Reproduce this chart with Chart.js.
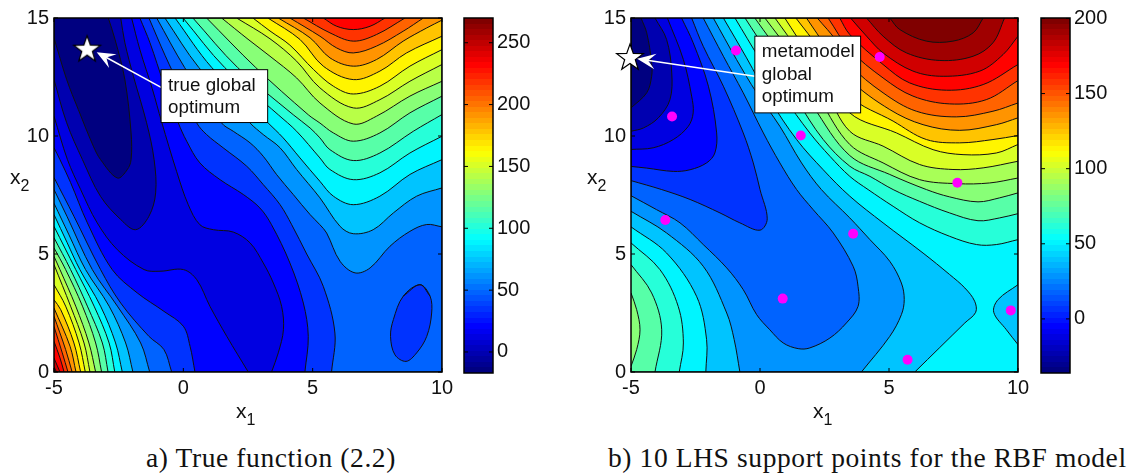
<!DOCTYPE html>
<html>
<head>
<meta charset="utf-8">
<title>True function and RBF model</title>
<script src="https://cdn.jsdelivr.net/npm/chart.js@4"></script>
<style>
body { margin: 0; background: #fff; }
#page { position: relative; width: 1134px; height: 476px; overflow: hidden; }
canvas { position: absolute; top: 0; }
.lab { position: absolute; font: 21px "Liberation Sans", Arial, sans-serif; color: #111; white-space: nowrap; }
.lab sub { font-size: 16px; line-height: 0; vertical-align: -7px; }
.cap { position: absolute; top: 442px; font: 27.5px "Liberation Serif", serif; letter-spacing: 0.6px; color: #111; white-space: nowrap; }
</style>
</head>
<body>
<div id="page">
  <canvas id="trueChart" width="460" height="410" style="left:0"></canvas>
  <canvas id="trueBar" width="90" height="410" style="left:450px"></canvas>
  <canvas id="rbfChart" width="460" height="410" style="left:577px"></canvas>
  <canvas id="rbfBar" width="108" height="410" style="left:1026px"></canvas>
  <div class="lab" style="left:236px;top:399px">x<sub>1</sub></div>
  <div class="lab" style="left:10px;top:165px">x<sub>2</sub></div>
  <div class="lab" style="left:813px;top:399px">x<sub>1</sub></div>
  <div class="lab" style="left:587px;top:165px">x<sub>2</sub></div>
  <div class="cap" style="left:146px">a) True function (2.2)</div>
  <div class="cap" style="left:608px">b) 10 LHS support points for the RBF model</div>
</div>
<script>
var axisTicks = [0, 5, 10, 15];
var trueBarRange = [-17, 270];
var trueBarTicks = [0, 50, 100, 150, 200, 250];
var rbfBarRange = [-36, 200.3];
var rbfBarTicks = [0, 50, 100, 150, 200];

// value of each filled band, lowest first
var trueBands = [-16, -3, 10, 23, 36, 49, 62, 75, 88, 101, 114, 127, 140, 153, 166, 179, 192, 205, 218, 231, 244, 257, 270];
var rbfBands = [-35, -24, -13, -3, 8, 19, 29, 40, 50, 61, 72, 83, 93, 104, 115, 125, 136, 147, 158, 168, 179, 190, 200];

var trueOptimum = [[-3.72, 13.7]];
var rbfOptimum = [[-5.04, 13.35]];
var supportPoints = [[-0.93, 13.62], [-3.41, 10.83], [1.58, 10.02], [4.64, 13.35], [7.65, 8.02], [-3.67, 6.44], [0.88, 3.11], [3.61, 5.86], [5.72, 0.52], [9.72, 2.61]];

// corners of the plot
var BL = [[-5, 0]], BR = [[10, 0]], TR = [[10, 15]], TL = [[-5, 15]];

// contours of panel a)
var tA = [[-2.9,15],[-2.64,14.09],[-2.26,12.39],[-2.02,10.13],[-2.02,9],[-2.17,8.57],[-2.55,8.22],[-3.2,9],[-3.48,9.57],[-4.06,11.12],[-4.51,12.39],[-5,14.16]];
var tB = [[-2.42,15],[-2.26,13.95],[-1.93,12.53],[-1.42,10.56],[-1.13,9],[-1.07,7.59],[-1.33,6.6],[-1.84,6.03],[-2.42,6.46],[-3.2,7.44],[-3.9,9],[-4.51,10.56],[-5,12.39]];
var tCHigh = [[-2,15],[-1.68,13.66],[-1.2,12],[-0.84,10.6],[-0.26,8.5],[0.19,7.09],[0.64,6.24],[1.16,6.03],[1.93,5.93],[2.58,5.47],[3.09,4.62],[3.48,3.77],[3.8,2.78],[3.87,1.79],[3.67,0.81],[3.41,0]];
var tCLow = [[-5,10.84],[-4.48,9],[-3.97,7.73],[-3.33,6.32],[-2.55,5.18],[-1.52,4.34],[-0.9,4.27],[0,4.34],[0.52,3.91],[1.03,2.78],[1.68,1.51],[2.51,0]];
var tDHigh = [[-1.68,15],[-1.29,13.95],[-0.75,12.2],[-0.2,10.57],[0.13,9.78],[0.64,8.86],[1.42,8.15],[2.32,7.52],[2.96,6.95],[3.41,6.24],[4.12,4.62],[4.64,2.92],[4.83,1.51],[4.7,0]];
var tDLow = [[-5,9.5],[-4.77,9],[-4.36,8.03],[-3.71,6.32],[-2.75,4.34],[-1.78,3.35],[-0.75,2.57],[0,1.94],[0.26,1.09],[0.45,0]];
var tEHigh = [[-1.33,15],[-0.7,13.4],[-0.1,12],[0.52,10.55],[0.9,10.06],[1.54,9.5],[2.45,8.72],[3.09,7.94],[3.74,7.09],[4.19,6.24],[4.77,5],[5.41,3.63],[5.86,1.65],[5.73,0]];
var tELow = [[-5,8.24],[-4.23,6.6],[-3.2,4.34],[-2.42,2.92],[-1.33,1.51],[-0.75,0.95],[-0.45,0]];
var tIsland = [[8.5,3.21],[9.15,3.7],[9.54,3.21],[9.6,2.5],[9.41,1.51],[9.02,0.81],[8.61,0.45],[8.18,0.73],[8.01,1.51],[8.12,2.22],[8.5,3.21],[9.15,3.7],[9.54,3.21]];
var tFHigh = [[-1.03,15],[0.05,12.9],[1.48,10.55],[1.93,10.2],[2.58,9.71],[3.09,9.14],[3.61,8.36],[4.25,7.52],[4.9,6.67],[5.28,6.24],[5.54,5.89],[6.06,4.69],[6.64,4.2],[7.22,4.41],[7.99,5.33],[8.76,5.96],[9.41,6.25],[10,6.15]];
var tFLow = [[-5,7.73],[-4.5,6.6],[-3.52,4.34],[-2.55,2.79],[-1.65,1.23],[-1.3,0]];
var tGHigh = [[-0.71,15],[0.6,12.9],[2.58,10.55],[3.09,10.06],[3.74,9.5],[4.38,8.58],[5.28,7.38],[6.06,6.17],[6.57,5.86],[7.34,6.03],[8.12,6.74],[9.02,7.45],[10,7.8]];
var tGLow = [[-5,7.15],[-4.42,5.81],[-3.78,4.34],[-2.87,2.79],[-2.23,1.23],[-1.95,0]];
var tHHigh = [[-0.32,15],[1.1,12.9],[3.28,10.55],[3.86,9.92],[4.51,9.07],[5.28,8.08],[5.8,7.45],[6.57,7.09],[7.6,7.45],[8.76,8.37],[10,9]];
var tHLow = [[-5,6.67],[-4.5,5.5],[-4,4.34],[-3.2,2.79],[-2.62,1.23],[-2.36,0]];
var tIHigh = [[-0.01,15],[1.6,12.9],[3.67,10.9],[4.38,10.2],[5.28,9.07],[5.67,8.58],[6.57,8.15],[7.6,8.44],[8.76,9.28],[10,9.99]];
var tILow = [[-5,6.17],[-4.16,4.34],[-3.45,2.79],[-2.87,1.23],[-2.65,0]];
var tJHigh = [[0.37,15],[2.1,12.9],[4.25,10.9],[4.9,10.34],[5.28,9.92],[5.67,9.42],[6.57,8.96],[7.6,9.28],[8.89,10.2],[10,10.91]];
var tJLow = [[-5,5.69],[-4.36,4.34],[-3.71,2.79],[-3.13,1.23],[-2.91,0]];
var tKHigh = [[0.9,15],[2.8,12.9],[4.83,10.9],[5.28,10.55],[5.8,10.13],[6.57,9.78],[7.6,10.13],[8.76,10.98],[10,11.69]];
var tKLow = [[-5,5.26],[-4.55,4.34],[-3.9,2.79],[-3.39,1.23],[-3.16,0]];
var tLHigh = [[1.48,15],[2.5,14.1],[3.35,13.38],[4.38,12.46],[5.28,11.4],[6.57,10.51],[7.47,10.84],[8.76,11.69],[10,12.32]];
var tLLow = [[-5,4.9],[-4.77,4.34],[-4.16,2.79],[-3.65,1.23],[-3.39,0]];
var tMHigh = [[2.06,15],[3.35,14.12],[4.38,13.17],[5.28,12.04],[6.57,11.19],[7.6,11.54],[8.76,12.32],[10,13.03]];
var tMLow = [[-5,4.55],[-4.36,2.79],[-3.84,1.23],[-3.61,0]];
var tNHigh = [[2.69,15],[3.35,14.45],[4.12,13.85],[5.03,12.82],[5.8,12.11],[6.57,11.78],[7.6,12.11],[8.76,12.96],[10,13.66]];
var tNLow = [[-5,3.7],[-4.55,2.79],[-4.03,1.23],[-3.79,0]];
var tOHigh = [[3.27,15],[4.51,14.09],[5.41,12.96],[6.57,12.39],[7.6,12.75],[8.63,13.52],[10,14.23]];
var tOLow = [[-5,3.06],[-4.74,2.64],[-4.23,1.23],[-3.97,0]];
var tPHigh = [[3.67,15],[4.9,14.16],[5.67,13.31],[6.57,12.96],[7.47,13.24],[8.5,14.02],[9.41,14.58],[10,14.91]];
var tPLow = [[-5,2.71],[-4.38,1.09],[-4.15,0]];
var tQHigh = [[4.12,15],[5.28,14.23],[5.93,13.73],[6.57,13.52],[7.47,13.81],[8.5,14.44],[9.28,15]];
var tQLow = [[-5,2.36],[-4.55,0.95],[-4.3,0]];
var tRHigh = [[4.64,15],[5.67,14.37],[6.57,14.02],[7.47,14.3],[8.57,15]];
var tRLow = [[-5,1.93],[-4.68,0.81],[-4.46,0]];
var tSHigh = [[5.41,15],[5.93,14.65],[6.57,14.51],[7.22,14.65],[7.8,15]];
var tSLow = [[-5,1.3],[-4.77,0.6],[-4.61,0]];
var tTLow = [[-5,0.59],[-4.77,0]];
var tULow = [[-5,0.21],[-4.9,0]];

// contours of panel b)
var rA = [[-4.61,15],[-4.39,14.37],[-4.2,13.1],[-4.2,12.53],[-4.39,11.83],[-5,11.19]];
var rB = [[-4.07,15],[-3.62,14.09],[-3.42,12.67],[-3.49,11.54],[-3.94,10.77],[-4.52,10.34],[-5,10.2]];
var rC = [[-3.59,15],[-2.97,13.24],[-2.65,11.69],[-2.59,10.98],[-2.78,10.41],[-3.36,9.85],[-4.14,9.5],[-5,9.43]];
var rD = [[-3.04,15],[-2.59,13.95],[-2,12.11],[-1.68,10.13],[-1.75,9.28],[-2.07,8.86],[-2.71,8.57],[-3.36,8.5],[-4.39,8.64],[-5,8.71]];
var rE = [[-2.65,15],[-2.2,13.8],[-1.42,12.11],[-0.65,10.13],[-0.26,8.86],[0,7.73],[0.28,6.49],[0,6.01],[-0.78,6.32],[-1.55,6.74],[-2.71,7.31],[-3.81,7.73],[-5,8.11]];
var rF = [[-2.2,15],[-1.42,13.38],[-0.65,11.83],[0.13,10.13],[0.77,8.86],[1.42,7.73],[2.06,6.88],[2.84,5.89],[3.61,4.48],[3.8,3.63],[3.8,2.78],[3.35,2.08],[2.71,1.44],[1.93,1.02],[1.48,0.99],[0.9,1.23],[0.38,1.79],[-0.13,2.43],[-0.65,3.49],[-1.29,4.41],[-2.2,5.4],[-3.1,6.32],[-4.01,6.88],[-5,7.47]];
var rGHigh = [[-1.81,15],[-0.91,13.24],[-0.13,11.83],[0.77,10.41],[1.61,8.86],[2.38,7.73],[3.48,6.53],[4.26,5.61],[5.03,4.69],[5.48,3.77],[5.59,3.07],[5.48,2.43],[5.03,1.51],[3.93,0]];
var rGLow = [[-5,6.81],[-3.62,5.89],[-2.2,4.48],[-1.29,2.5],[-1,1.37],[-0.78,0]];
var rHHigh = [[-1.42,15],[-0.52,13.31],[0.38,11.54],[1.42,9.85],[2.45,8.57],[3.48,7.45],[4.77,6.32],[6.32,5.04],[7.35,4.13],[7.94,3.56],[8.32,3],[8.36,2.53],[7.94,2.08],[6,0]];
var rHLow = [[-5,6.15],[-3.62,5.04],[-2.46,3.21],[-2.07,1.37],[-2.1,0]];
var rIsland = [[10,3.7],[9.23,3.07],[9.06,2.53],[9.55,1.79],[10,1.16]];
var rIHigh = [[-0.97,15],[0,13.24],[0.9,11.69],[1.93,10.13],[2.71,9.14],[3.48,8.29],[4.19,7.73],[5.16,7.02],[6.19,6.32],[7.35,5.75],[8.39,5.4],[9.16,5.4],[10,5.61]];
var rILow = [[-5,5.47],[-3.88,4.34],[-3.17,2.78],[-2.97,1.23],[-3.13,0]];
var rJHigh = [[-0.58,15],[0.38,13.38],[1.42,11.54],[2.45,9.85],[3.48,8.72],[4.26,8.29],[5.16,7.73],[6.19,7.23],[7.35,6.74],[8.45,6.41],[9.29,6.53],[10,6.71]];
var rJLow = [[-5,4.55],[-4.2,3.35],[-3.81,1.79],[-4.07,0]];
var rKHigh = [[-0.2,15],[1.03,13.1],[2.06,11.26],[3.48,9.17],[5.03,8.37],[6.45,7.73],[7.35,7.42],[8.45,7.21],[9.29,7.38],[10,7.59]];
var rKLow = [[-5,3.35],[-4.78,2.64],[-4.65,1.79],[-4.78,0.95],[-5,0.24]];
var rL = [[0.19,15],[1.29,13.38],[2.32,11.54],[3.48,9.64],[4.77,8.86],[6.19,8.15],[7.65,7.98],[8.9,8.01],[10,8.22]];
var rM = [[0.58,15],[1.55,13.52],[2.51,11.97],[3.48,10.2],[4.77,9.57],[6.19,8.79],[7.48,8.58],[8.65,8.65],[10,8.93]];
var rN = [[0.96,15],[1.93,13.38],[3.48,10.98],[5.29,10.13],[6.71,9.42],[7.87,9.21],[9.16,9.28],[10,9.64]];
var rO = [[1.39,15],[2.32,13.66],[3.48,11.69],[5.16,10.63],[6.45,9.85],[7.74,9.71],[9.03,9.85],[10,10.02]];
var rP = [[1.8,15],[2.64,13.66],[3.48,12.39],[5.03,11.12],[6.32,10.48],[7.74,10.24],[9.16,10.48],[10,10.77]];
var rQ = [[2.22,15],[2.97,14.02],[3.48,13.03],[4.77,11.83],[6.06,11.05],[7.61,10.81],[9.03,11.05],[10,11.4]];
var rR = [[2.64,15],[3.48,13.66],[4.77,12.46],[5.93,11.69],[7.35,11.36],[8.77,11.54],[10,12.35]];
var rS = [[3.09,15],[3.48,14.3],[4.77,13.03],[5.8,12.25],[7.23,11.94],[8.65,12.18],[10,13.03]];
var rT = [[3.51,15],[4.13,14.23],[4.77,13.52],[5.93,12.75],[7.1,12.53],[8.52,12.75],[9.42,13.45],[10,14.23]];
var rU = [[4.13,15],[4.77,14.23],[5.68,13.52],[6.97,13.2],[8.26,13.38],[9.03,13.95],[9.48,15]];
var rV = [[5.03,15],[5.42,14.51],[6.45,14.02],[7.48,14.02],[8.26,14.37],[8.65,15]];

function rev(line) {
    return line.slice().reverse();
}

// band index, then the pieces of the outline; painted in this order, hottest first
var trueRegions = [
    [22, [BL, BR, TR, TL]],
    [20, [tULow, BR, TR, TL]],
    [19, [tTLow, BR, TR, TL]],
    [18, [tSLow, BR, TR, rev(tSHigh), TL]],
    [17, [tRLow, BR, TR, rev(tRHigh), TL]],
    [16, [tQLow, BR, TR, rev(tQHigh), TL]],
    [15, [tPLow, BR, rev(tPHigh), TL]],
    [14, [tOLow, BR, rev(tOHigh), TL]],
    [13, [tNLow, BR, rev(tNHigh), TL]],
    [12, [tMLow, BR, rev(tMHigh), TL]],
    [11, [tLLow, BR, rev(tLHigh), TL]],
    [10, [tKLow, BR, rev(tKHigh), TL]],
    [9, [tJLow, BR, rev(tJHigh), TL]],
    [8, [tILow, BR, rev(tIHigh), TL]],
    [7, [tHLow, BR, rev(tHHigh), TL]],
    [6, [tGLow, BR, rev(tGHigh), TL]],
    [5, [tFLow, BR, rev(tFHigh), TL]],
    [4, [tELow, rev(tEHigh), TL]],
    [4, [tIsland]],
    [3, [tDLow, rev(tDHigh), TL]],
    [2, [tCLow, rev(tCHigh), TL]],
    [1, [tB, TL]],
    [0, [tA, TL]]
];

var rbfRegions = [
    [22, [BL, BR, TR, TL]],
    [21, [BL, BR, TR, rev(rV), TL]],
    [20, [BL, BR, TR, rev(rU), TL]],
    [19, [BL, BR, rev(rT), TL]],
    [18, [BL, BR, rev(rS), TL]],
    [17, [BL, BR, rev(rR), TL]],
    [16, [BL, BR, rev(rQ), TL]],
    [15, [BL, BR, rev(rP), TL]],
    [14, [BL, BR, rev(rO), TL]],
    [13, [BL, BR, rev(rN), TL]],
    [12, [BL, BR, rev(rM), TL]],
    [11, [BL, BR, rev(rL), TL]],
    [10, [rKLow, BL, BR, rev(rKHigh), TL]],
    [9, [rJLow, BR, rev(rJHigh), TL]],
    [8, [rILow, BR, rev(rIHigh), TL]],
    [7, [rHLow, rev(rHHigh), TL]],
    [7, [rIsland]],
    [6, [rGLow, rev(rGHigh), TL]],
    [5, [rF, TL]],
    [4, [rE, TL]],
    [3, [rD, TL]],
    [2, [rC, TL]],
    [1, [rB, TL]],
    [0, [rA, TL]]
];

var trueNote = { lines: ['true global', 'optimum'], box: [-0.86, 3.26, 12.81, 10.57], tail: [-0.86, 12.06], tip: [-3.35, 13.55], gap: 22 };
var rbfNote = { lines: ['metamodel', 'global', 'optimum'], box: [-0.2, 3.9, 14.23, 10.98], tail: [-0.2, 12.53], tip: [-4.76, 13.27], gap: 22.5 };

function jet(t) {
    t = Math.min(63, Math.max(0, Math.floor(t * 64))) / 63;
    function c(v) {
        return Math.round(255 * Math.min(1, Math.max(0, v)));
    }
    return 'rgb(' + c(1.5 - Math.abs(4 * t - 3)) + ',' + c(1.5 - Math.abs(4 * t - 2)) + ',' + c(1.5 - Math.abs(4 * t - 1)) + ')';
}

// first and last point are doubled so the spline keeps a sharp corner there
function outline(parts) {
    var out = [];
    for (var i = 0; i < parts.length; i++) {
        var line = parts[i];
        out.push(line[0]);
        for (var j = 0; j < line.length; j++) {
            out.push(line[j]);
        }
        out.push(line[line.length - 1]);
    }
    return out.map(function (p) { return { x: p[0], y: p[1] }; });
}

function toPoints(list) {
    return list.map(function (p) { return { x: p[0], y: p[1] }; });
}

function starImage() {
    var c = document.createElement('canvas');
    c.width = 32;
    c.height = 32;
    var g = c.getContext('2d');
    g.beginPath();
    for (var i = 0; i < 10; i++) {
        var r = i % 2 ? 5.6 : 14;
        var a = -Math.PI / 2 + i * Math.PI / 5;
        g.lineTo(16 + r * Math.cos(a), 17 + r * Math.sin(a));
    }
    g.closePath();
    g.fillStyle = '#fff';
    g.fill();
    g.lineWidth = 1.2;
    g.strokeStyle = '#000';
    g.stroke();
    return c;
}

function drawFrame(chart) {
    var a = chart.chartArea, ctx = chart.ctx;
    ctx.save();
    ctx.strokeStyle = '#000';
    ctx.lineWidth = 1.5;
    ctx.strokeRect(a.left, a.top, a.right - a.left, a.bottom - a.top);
    ctx.lineWidth = 1;
    ctx.beginPath();
    chart.scales.y.ticks.forEach(function (t) {
        var py = chart.scales.y.getPixelForValue(t.value);
        ctx.moveTo(a.left, py);
        ctx.lineTo(a.left + 4, py);
        ctx.moveTo(a.right, py);
        ctx.lineTo(a.right - 4, py);
    });
    if (chart.scales.x.type === 'linear') {
        chart.scales.x.ticks.forEach(function (t) {
            var px = chart.scales.x.getPixelForValue(t.value);
            ctx.moveTo(px, a.bottom);
            ctx.lineTo(px, a.bottom - 4);
            ctx.moveTo(px, a.top);
            ctx.lineTo(px, a.top + 4);
        });
    }
    ctx.stroke();
    ctx.restore();
}

var framePlugin = {
    id: 'frame',
    beforeDatasetDraw: function (chart, args) {
        if (args.meta.order === -1) {
            drawFrame(chart);
        }
    },
    afterDatasetsDraw: function (chart) {
        var note = chart.options.plugins.frame.note;
        if (!note) {
            drawFrame(chart);
            return;
        }
        var x = chart.scales.x, y = chart.scales.y, ctx = chart.ctx;
        var tx = x.getPixelForValue(note.tail[0]), ty = y.getPixelForValue(note.tail[1]);
        var hx = x.getPixelForValue(note.tip[0]), hy = y.getPixelForValue(note.tip[1]);
        var ang = Math.atan2(ty - hy, tx - hx);
        ctx.save();
        ctx.strokeStyle = '#fff';
        ctx.fillStyle = '#fff';
        ctx.lineWidth = 1.5;
        ctx.beginPath();
        ctx.moveTo(tx, ty);
        ctx.lineTo(hx + 10 * Math.cos(ang), hy + 10 * Math.sin(ang));
        ctx.stroke();
        ctx.beginPath();
        ctx.moveTo(hx, hy);
        ctx.lineTo(hx + 20 * Math.cos(ang + 0.4), hy + 20 * Math.sin(ang + 0.4));
        ctx.lineTo(hx + 11 * Math.cos(ang), hy + 11 * Math.sin(ang));
        ctx.lineTo(hx + 20 * Math.cos(ang - 0.4), hy + 20 * Math.sin(ang - 0.4));
        ctx.closePath();
        ctx.fill();
        var bx = x.getPixelForValue(note.box[0]), bx2 = x.getPixelForValue(note.box[1]);
        var by = y.getPixelForValue(note.box[2]), by2 = y.getPixelForValue(note.box[3]);
        ctx.fillRect(bx, by, bx2 - bx, by2 - by);
        ctx.strokeStyle = '#000';
        ctx.lineWidth = 1;
        ctx.strokeRect(bx, by, bx2 - bx, by2 - by);
        ctx.fillStyle = '#111';
        ctx.font = '18.8px "Liberation Sans", Arial, sans-serif';
        ctx.textBaseline = 'alphabetic';
        for (var i = 0; i < note.lines.length; i++) {
            ctx.fillText(note.lines[i], bx + 7, by + 21 + i * note.gap);
        }
        ctx.restore();
    }
};

function tickFont() {
    return { family: '"Liberation Sans", Arial, sans-serif', size: 20 };
}

function makePanel(id, regions, bands, range, optimum, points, note, rightPad) {
    var datasets = [];
    for (var i = 0; i < regions.length; i++) {
        var t = (bands[regions[i][0]] - range[0]) / (range[1] - range[0]);
        datasets.push({
            data: outline(regions[i][1]),
            showLine: true,
            tension: 0.35,
            fill: 'shape',
            backgroundColor: jet(t),
            borderColor: '#111',
            borderWidth: 1,
            pointRadius: 0,
            order: regions.length - i + 1
        });
    }
    if (points) {
        datasets.push({ data: toPoints(points), pointRadius: 5, pointBackgroundColor: '#ff00ff', pointBorderWidth: 0, order: 0 });
    }
    datasets.push({ data: toPoints(optimum), pointStyle: starImage(), clip: false, order: -1 });
    return new Chart(document.getElementById(id), {
        type: 'scatter',
        data: { datasets: datasets },
        plugins: [framePlugin],
        options: {
            responsive: false,
            animation: false,
            layout: { padding: { top: 18, right: rightPad, left: 0, bottom: 0 } },
            plugins: { legend: { display: false }, tooltip: { enabled: false }, frame: { note: note } },
            scales: {
                x: {
                    type: 'linear', min: -5, max: 10,
                    grid: { display: false, drawTicks: false }, border: { display: false },
                    afterFit: function (s) { s.height = 38; },
                    ticks: { stepSize: 5, padding: 4, color: '#111', font: tickFont() }
                },
                y: {
                    type: 'linear', min: 0, max: 15,
                    grid: { display: false, drawTicks: false }, border: { display: false },
                    afterFit: function (s) { s.width = 54; },
                    afterBuildTicks: function (s) { s.ticks = axisTicks.map(function (v) { return { value: v }; }); },
                    ticks: { padding: 5, color: '#111', font: tickFont() }
                }
            }
        }
    });
}

function makeBar(id, range, ticks, left, axisWidth) {
    return new Chart(document.getElementById(id), {
        type: 'bar',
        data: {
            labels: [''],
            datasets: [{
                data: [range],
                barPercentage: 1,
                categoryPercentage: 1,
                backgroundColor: function (c) {
                    var a = c.chart.chartArea;
                    if (!a) {
                        return '#000';
                    }
                    var g = c.chart.ctx.createLinearGradient(0, a.bottom, 0, a.top);
                    for (var i = 0; i < 64; i++) {
                        g.addColorStop(i / 64, jet((i + 0.5) / 64));
                        g.addColorStop((i + 1) / 64, jet((i + 0.5) / 64));
                    }
                    return g;
                }
            }]
        },
        plugins: [framePlugin],
        options: {
            responsive: false,
            animation: false,
            layout: { padding: { top: 18, left: left, right: 0, bottom: 37 } },
            plugins: { legend: { display: false }, tooltip: { enabled: false }, frame: {} },
            scales: {
                x: { display: false },
                y: {
                    position: 'right', min: range[0], max: range[1],
                    grid: { display: false, drawTicks: false }, border: { display: false },
                    afterFit: function (s) { s.width = axisWidth; },
                    afterBuildTicks: function (s) { s.ticks = ticks.map(function (v) { return { value: v }; }); },
                    ticks: { padding: 4, color: '#111', font: tickFont() }
                }
            }
        }
    });
}

makePanel('trueChart', trueRegions, trueBands, trueBarRange, trueOptimum, null, trueNote, 18);
makePanel('rbfChart', rbfRegions, rbfBands, rbfBarRange, rbfOptimum, supportPoints, rbfNote, 19);
makeBar('trueBar', trueBarRange, trueBarTicks, 14, 47);
makeBar('rbfBar', rbfBarRange, rbfBarTicks, 15, 64);
</script>
</body>
</html>
